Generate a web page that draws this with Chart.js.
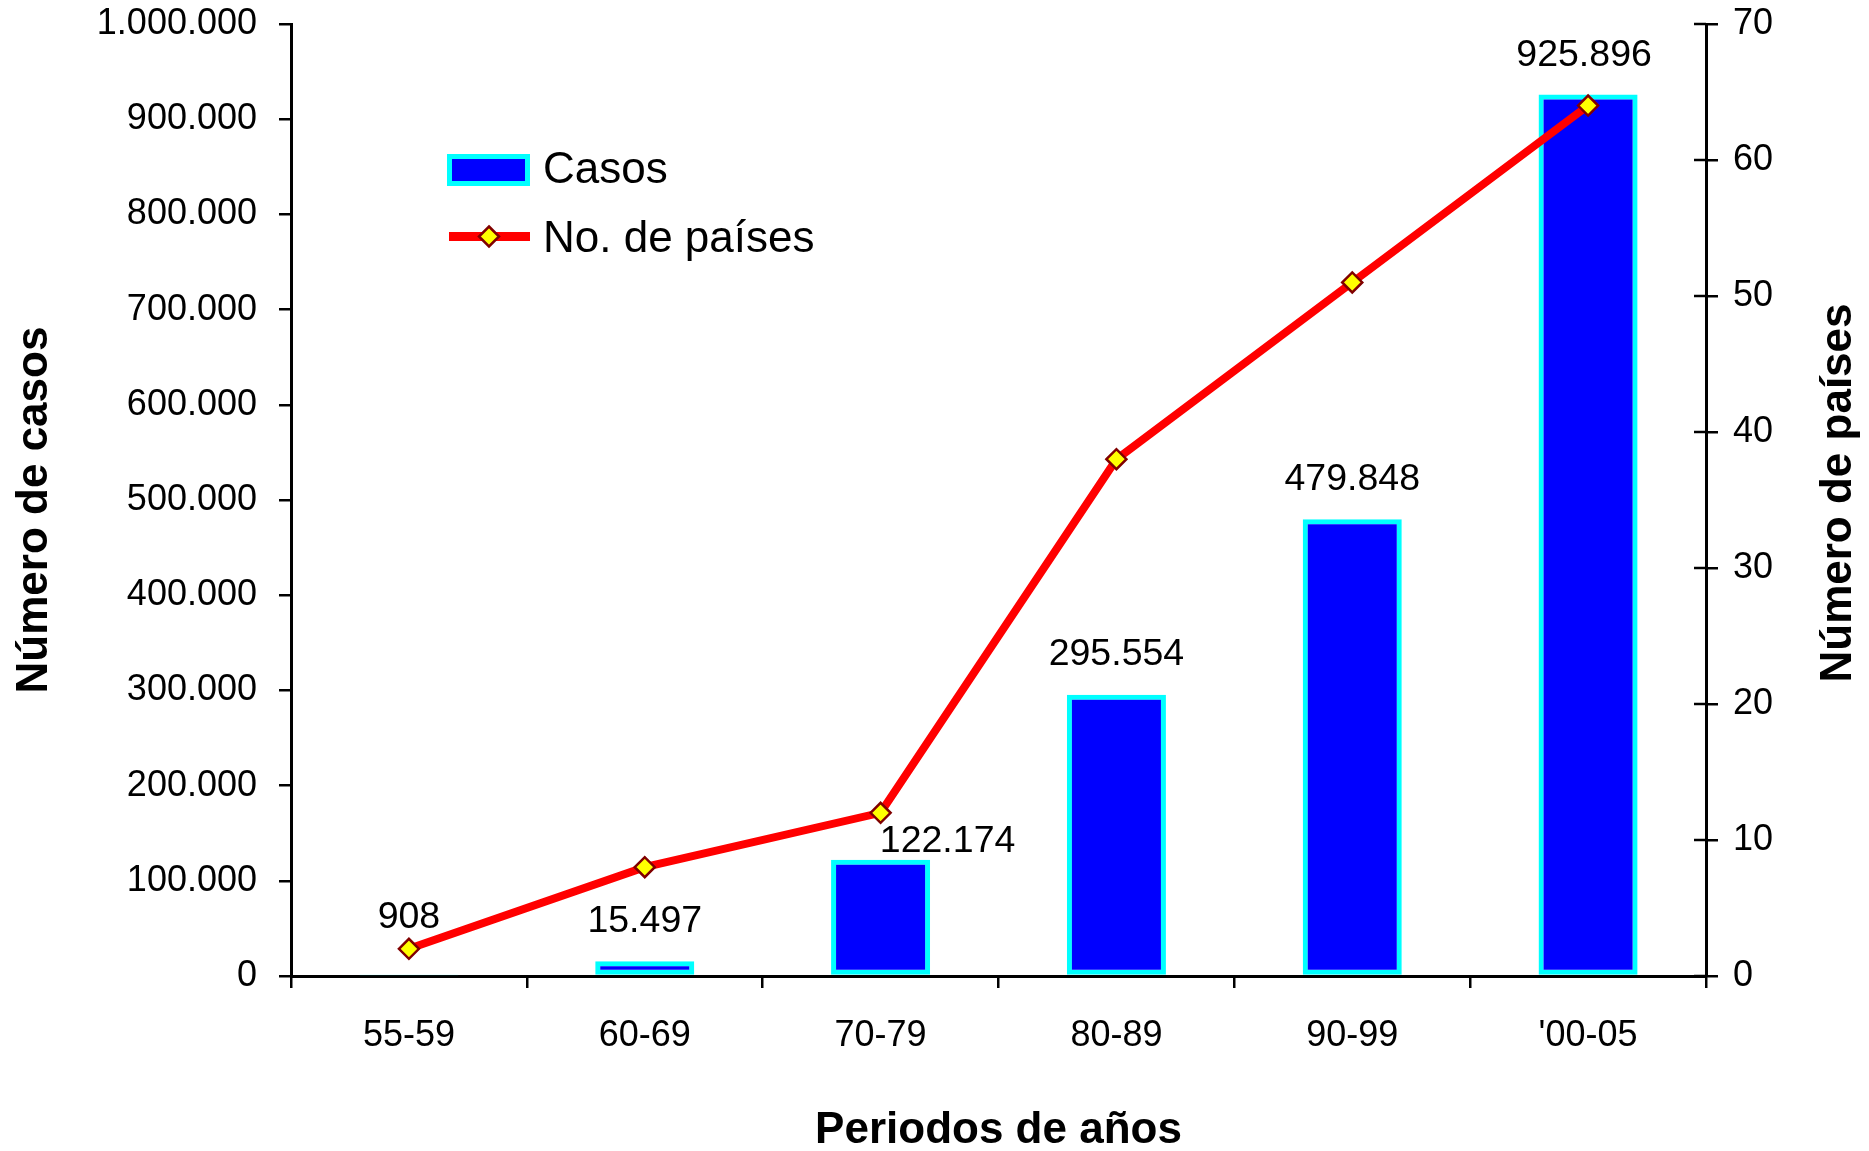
<!DOCTYPE html>
<html>
<head>
<meta charset="utf-8">
<script src="https://cdn.jsdelivr.net/npm/chart.js@4/dist/chart.umd.min.js"></script>
<style>
  html, body { margin: 0; padding: 0; background: #fff; }
  #wrap { width: 1869px; height: 1151px; position: relative; }
</style>
</head>
<body>
<div id="wrap"><canvas id="chart"></canvas></div>
<script>
// Periods, cases per period and number of countries reporting
const periods = ['55-59', '60-69', '70-79', '80-89', '90-99', "'00-05"];
const cases = [908, 15497, 122174, 295554, 479848, 925896];
const countries = [2, 8, 12, 38, 51, 64];

// Nudges (px) for the value labels above each bar: [dx, dy] from the bar top
const caseLabelShift = [[0, -57], [0, -40], [67, -18], [0, -40], [0, -40], [-4, -39]];

const FONT = '"Liberation Sans", Arial, Helvetica, sans-serif';
const BLUE = '#0000FF', CYAN = '#00FFFF', RED = '#FF0000', YELLOW = '#FFFF00', MAROON = '#800000';

function dotThousands(v) {
  return String(Math.round(v)).replace(/\B(?=(\d{3})+(?!\d))/g, '.');
}

function diamond(ctx, x, y, r) {
  ctx.beginPath();
  ctx.moveTo(x, y - r);
  ctx.lineTo(x + r, y);
  ctx.lineTo(x, y + r);
  ctx.lineTo(x - r, y);
  ctx.closePath();
  ctx.fill();
  ctx.stroke();
}

// Value labels above the bars
const barValueLabels = {
  id: 'barValueLabels',
  afterDatasetsDraw(chart) {
    const ctx = chart.ctx;
    const meta = chart.getDatasetMeta(0);
    ctx.save();
    ctx.font = '37.5px ' + FONT;
    ctx.fillStyle = '#000';
    ctx.textAlign = 'center';
    ctx.textBaseline = 'middle';
    meta.data.forEach((bar, i) => {
      const [dx, dy] = caseLabelShift[i];
      ctx.fillText(dotThousands(chart.data.datasets[0].data[i]), bar.x + dx, bar.y + dy);
    });
    ctx.restore();
  }
};

function verticalTitle(ctx, text, x, y) {
  ctx.save();
  ctx.translate(x, y);
  ctx.rotate(-Math.PI / 2);
  ctx.font = 'bold 44px ' + FONT;
  ctx.fillStyle = '#000';
  ctx.textAlign = 'center';
  ctx.textBaseline = 'middle';
  ctx.fillText(text, 0, 0);
  ctx.restore();
}

// Legend inside the plot, inner half of the right-axis ticks, axis titles
const extras = {
  id: 'extras',
  afterDraw(chart) {
    const ctx = chart.ctx;
    const ds = chart.data.datasets;
    ctx.save();

    // legend: bar swatch
    ctx.fillStyle = CYAN;
    ctx.fillRect(447, 154, 83, 32);
    ctx.fillStyle = BLUE;
    ctx.fillRect(452, 159, 73, 22);
    // legend: line swatch
    ctx.strokeStyle = RED;
    ctx.lineWidth = 9;
    ctx.beginPath();
    ctx.moveTo(449, 236.5);
    ctx.lineTo(530, 236.5);
    ctx.stroke();
    ctx.fillStyle = YELLOW;
    ctx.strokeStyle = MAROON;
    ctx.lineWidth = 2.5;
    diamond(ctx, 489, 236.5, 10);
    // legend text
    ctx.font = '44px ' + FONT;
    ctx.fillStyle = '#000';
    ctx.textAlign = 'left';
    ctx.textBaseline = 'middle';
    ctx.fillText(ds[0].label, 543, 171);
    ctx.fillText(ds[1].label, 543, 240);

    // right axis: tick marks also reach into the plot
    const s = chart.scales.y1;
    ctx.strokeStyle = '#000';
    ctx.lineWidth = 2.5;
    s.ticks.forEach(t => {
      const y = s.getPixelForValue(t.value);
      ctx.beginPath();
      ctx.moveTo(s.left - 12, y);
      ctx.lineTo(s.left, y);
      ctx.stroke();
    });
    ctx.restore();

    // axis titles, both reading upwards
    verticalTitle(ctx, 'Número de casos', 35, 510);
    verticalTitle(ctx, 'Número de países', 1839, 493);
  }
};

const axisGrid = {
  display: true,
  drawOnChartArea: false,
  drawTicks: true,
  tickLength: 12,
  color: '#000',
  lineWidth: 2.5
};
const axisBorder = { display: true, color: '#000', width: 3 };
const tickFont = { family: FONT, size: 36 };

// fixed side widths so the plot area keeps its place
function fixVertical(width) {
  return function (scale) {
    scale.width = width;
    scale.paddingTop = 0;
    scale.paddingBottom = 0;
  };
}

new Chart(document.getElementById('chart'), {
  data: {
    labels: periods,
    datasets: [
      {
        type: 'bar',
        label: 'Casos',
        data: cases,
        yAxisID: 'y',
        backgroundColor: BLUE,
        borderColor: CYAN,
        borderWidth: 5,
        borderSkipped: false,
        barPercentage: 0.42,
        categoryPercentage: 1,
        order: 2
      },
      {
        type: 'line',
        label: 'No. de países',
        data: countries,
        yAxisID: 'y1',
        borderColor: RED,
        borderWidth: 8,
        tension: 0,
        pointStyle: 'rectRot',
        pointRadius: 10,
        pointHoverRadius: 10,
        pointBackgroundColor: YELLOW,
        pointBorderColor: MAROON,
        pointBorderWidth: 2.5,
        order: 1
      }
    ]
  },
  options: {
    responsive: true,
    maintainAspectRatio: false,
    animation: false,
    layout: { padding: { top: 24, left: 0, right: 0, bottom: 0 } },
    plugins: {
      legend: { display: false },
      tooltip: { enabled: false }
    },
    scales: {
      x: {
        offset: true,
        grid: Object.assign({}, axisGrid, { offset: true }),
        border: axisBorder,
        ticks: { font: tickFont, color: '#000', padding: 26, maxRotation: 0 },
        title: {
          display: true,
          text: 'Periodos de años',
          color: '#000',
          font: { family: FONT, size: 44, weight: 'bold', lineHeight: 0.9 },
          padding: { top: 0, bottom: 0 }
        },
        afterFit(scale) {
          scale.height = 175;
          scale.paddingLeft = 0;
          scale.paddingRight = 0;
        }
      },
      y: {
        position: 'left',
        min: 0,
        max: 1000000,
        grid: axisGrid,
        border: axisBorder,
        ticks: { stepSize: 100000, font: tickFont, color: '#000', padding: 22, callback: v => dotThousands(v) },
        afterFit: fixVertical(291)
      },
      y1: {
        position: 'right',
        min: 0,
        max: 70,
        grid: axisGrid,
        border: axisBorder,
        ticks: { stepSize: 10, font: tickFont, color: '#000', padding: 15 },
        afterFit: fixVertical(163)
      }
    }
  },
  plugins: [barValueLabels, extras]
});
</script>
</body>
</html>
